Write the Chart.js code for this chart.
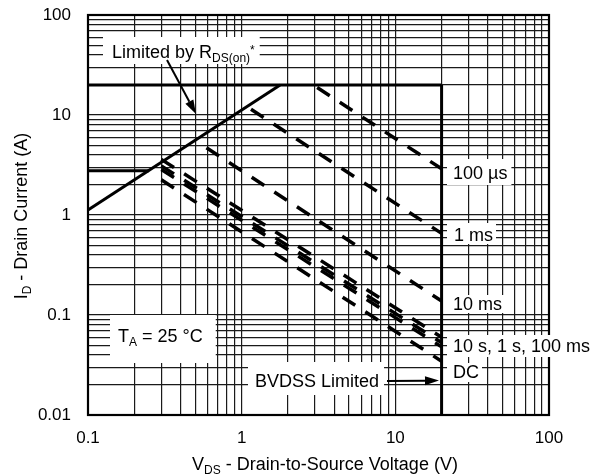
<!DOCTYPE html>
<html>
<head>
<meta charset="utf-8">
<script src="https://cdn.jsdelivr.net/npm/chart.js@4.4.1/dist/chart.umd.min.js"></script>
<style>
  html, body { margin: 0; padding: 0; background: #fff; }
  #wrap { width: 591px; height: 474px; }
</style>
</head>
<body>
<div id="wrap"><canvas id="soa" width="591" height="474"></canvas></div>
<script>
// ---- Safe operating area ----
// V_DS in volts, I_D in amps; each curve is a straight run on the log-log axes.

// hard limits (solid)
const rdsOnV = [0.1, 1.78];
const rdsOnI = [1.12, 20];
const maxCurrentV = [0.1, 20];
const maxCurrentI = [20, 20];
const bvdssV = [20, 20];
const bvdssI = [20, 0.01];
const leftStepV = [0.1, 0.25];
const leftStepI = [2.77, 2.77];

// pulse-width curves (dashed)
const pulse100usV = [3.1, 20];
const pulse100usI = [18.8, 2.9];
const pulse1msV = [1.15, 20];
const pulse1msI = [11.4, 0.655];
const pulse10msV = [0.59, 20];
const pulse10msI = [4.7, 0.138];
const pulse100msV = [0.3, 20];
const pulse100msI = [3.6, 0.060];
const pulse1sV = [0.3, 20];
const pulse1sI = [3.1, 0.053];
const pulse10sV = [0.3, 20];
const pulse10sI = [2.85, 0.048];
const dcV = [0.3, 20];
const dcI = [2.25, 0.0345];

// axes
const xGridTicks = [0.1, 0.2, 0.3, 0.4, 0.5, 0.6, 0.7, 0.8, 0.9,
  1, 2, 3, 4, 5, 6, 7, 8, 9, 10, 20, 30, 40, 50, 60, 70, 80, 90, 100];
const yGridTicks = [0.01, 0.02, 0.03, 0.04, 0.05, 0.06, 0.07, 0.08, 0.09,
  0.1, 0.2, 0.3, 0.4, 0.5, 0.6, 0.7, 0.8, 0.9,
  1, 2, 3, 4, 5, 6, 7, 8, 9, 10, 20, 30, 40, 50, 60, 70, 80, 90, 100];
const xTickLabels = ['0.1', '1', '10', '100'];
const yTickLabels = ['0.01', '0.1', '1', '10', '100'];

const FONT = "'Liberation Sans', Arial, Helvetica, sans-serif";

const toPoints = (vs, is) => vs.map((v, k) => ({ x: v, y: is[k] }));

function solid(vs, is) {
  return { data: toPoints(vs, is), borderColor: '#000', borderWidth: 3, pointRadius: 0, fill: false, clip: false };
}
function dashed(vs, is) {
  return { data: toPoints(vs, is), borderColor: '#000', borderWidth: 3.5, borderDash: [15, 12], borderCapStyle: 'butt', pointRadius: 0, fill: false };
}

// text with subscripts / superscripts: parts = [[text, 'sub'|'sup'|undefined], ...]
function richWidth(ctx, parts) {
  let w = 0;
  parts.forEach(([t, kind]) => {
    ctx.font = (kind ? 12 : 18) + 'px ' + FONT;
    w += ctx.measureText(t).width;
  });
  return w;
}
function drawRich(ctx, parts, x, y) {
  ctx.textAlign = 'left';
  ctx.textBaseline = 'alphabetic';
  ctx.fillStyle = '#000';
  parts.forEach(([t, kind]) => {
    ctx.font = (kind ? 12 : 18) + 'px ' + FONT;
    const dy = kind === 'sub' ? 4 : kind === 'sup' ? -4 : 0;
    ctx.fillText(t, x, y + dy);
    x += ctx.measureText(t).width;
  });
}

// callout labels: left x, baseline y, white box padding [left, top, right, bottom]
const labels = [
  { parts: [['Limited by R'], ['DS(on)', 'sub'], ['*', 'sup']], x: 112, y: 58, pad: [9, 21, 5, 6] },
  { parts: [['100 µs']], x: 453, y: 179, pad: [6, 20, 4, 6] },
  { parts: [['1 ms']], x: 454, y: 241, pad: [7, 18, 3, 3] },
  { parts: [['10 ms']], x: 453, y: 310, pad: [6, 15, 3, 3] },
  { parts: [['10 s, 1 s, 100 ms']], x: 453, y: 352, pad: [6, 17, 6, 5] },
  { parts: [['DC']], x: 453, y: 378, pad: [6, 15, 3, 4] },
  { parts: [['BVDSS Limited']], x: 255, y: 387, pad: [7, 25, 5, 8] },
  { parts: [['T'], ['A', 'sub'], [' = 25 °C']], x: 118, y: 342, pad: [8, 27, 13, 21] }
];

// arrows: from -> tip
const arrows = [
  { from: [167, 60], to: [196, 114] },
  { from: [387, 381], to: [439, 380.5] }
];

function drawArrow(ctx, a) {
  const [x0, y0] = a.from, [x1, y1] = a.to;
  const ang = Math.atan2(y1 - y0, x1 - x0);
  const len = 14, half = 4.5;
  const bx = x1 - len * Math.cos(ang), by = y1 - len * Math.sin(ang);
  ctx.strokeStyle = '#000';
  ctx.lineWidth = 2;
  ctx.beginPath();
  ctx.moveTo(x0, y0);
  ctx.lineTo(bx, by);
  ctx.stroke();
  ctx.fillStyle = '#000';
  ctx.beginPath();
  ctx.moveTo(x1, y1);
  ctx.lineTo(bx + half * Math.sin(ang), by - half * Math.cos(ang));
  ctx.lineTo(bx - half * Math.sin(ang), by + half * Math.cos(ang));
  ctx.closePath();
  ctx.fill();
}

const decor = {
  id: 'soaDecor',
  beforeDatasetsDraw(chart) {
    const { ctx, chartArea: a } = chart;
    ctx.save();
    // frame
    ctx.strokeStyle = '#000';
    ctx.lineWidth = 2.2;
    ctx.strokeRect(a.left, a.top, a.right - a.left, a.bottom - a.top);
    // white callout boxes and their text
    labels.forEach(l => {
      const w = richWidth(ctx, l.parts);
      const [pl, pt, pr, pb] = l.pad;
      ctx.fillStyle = '#fff';
      ctx.fillRect(l.x - pl, l.y - pt, w + pl + pr, pt + pb);
      drawRich(ctx, l.parts, l.x, l.y);
    });
    ctx.restore();
  },
  afterDatasetsDraw(chart) {
    const { ctx } = chart;
    ctx.save();
    arrows.forEach(a => drawArrow(ctx, a));
    // axis titles
    const xt = [['V'], ['DS', 'sub'], [' - Drain-to-Source Voltage (V)']];
    drawRich(ctx, xt, 325 - richWidth(ctx, xt) / 2, 470);
    const yt = [['I'], ['D', 'sub'], [' - Drain Current (A)']];
    ctx.translate(27, 216);
    ctx.rotate(-Math.PI / 2);
    drawRich(ctx, yt, -richWidth(ctx, yt) / 2, 0);
    ctx.restore();
  }
};

const gridStyle = { color: '#1a1a1a', lineWidth: 1.2, drawTicks: false };

new Chart(document.getElementById('soa'), {
  type: 'line',
  data: {
    datasets: [
      solid(rdsOnV, rdsOnI),
      solid(maxCurrentV, maxCurrentI),
      solid(bvdssV, bvdssI),
      solid(leftStepV, leftStepI),
      dashed(pulse100usV, pulse100usI),
      dashed(pulse1msV, pulse1msI),
      dashed(pulse10msV, pulse10msI),
      dashed(pulse100msV, pulse100msI),
      dashed(pulse1sV, pulse1sI),
      dashed(pulse10sV, pulse10sI),
      dashed(dcV, dcI)
    ]
  },
  options: {
    responsive: false,
    animation: false,
    layout: { padding: { top: 15, right: 42, left: 0, bottom: 0 } },
    plugins: { legend: { display: false }, tooltip: { enabled: false } },
    scales: {
      x: {
        type: 'logarithmic',
        min: 0.1,
        max: 100,
        afterBuildTicks: s => { s.ticks = xGridTicks.map(v => ({ value: v })); },
        afterFit: s => { s.height = 59; s.paddingLeft = 0; s.paddingRight = 0; },
        grid: gridStyle,
        border: { display: false },
        ticks: {
          autoSkip: false,
          maxRotation: 0,
          padding: 13,
          color: '#000',
          font: { family: FONT, size: 17 },
          callback: v => xTickLabels.find(t => Number(t) === v) || ''
        }
      },
      y: {
        type: 'logarithmic',
        min: 0.01,
        max: 100,
        afterBuildTicks: s => { s.ticks = yGridTicks.map(v => ({ value: v })); },
        afterFit: s => { s.width = 88; s.paddingTop = 0; s.paddingBottom = 0; },
        grid: gridStyle,
        border: { display: false },
        ticks: {
          autoSkip: false,
          padding: 17,
          color: '#000',
          font: { family: FONT, size: 17 },
          callback: v => yTickLabels.find(t => Number(t) === v) || ''
        }
      }
    }
  },
  plugins: [decor]
});
</script>
</body>
</html>
